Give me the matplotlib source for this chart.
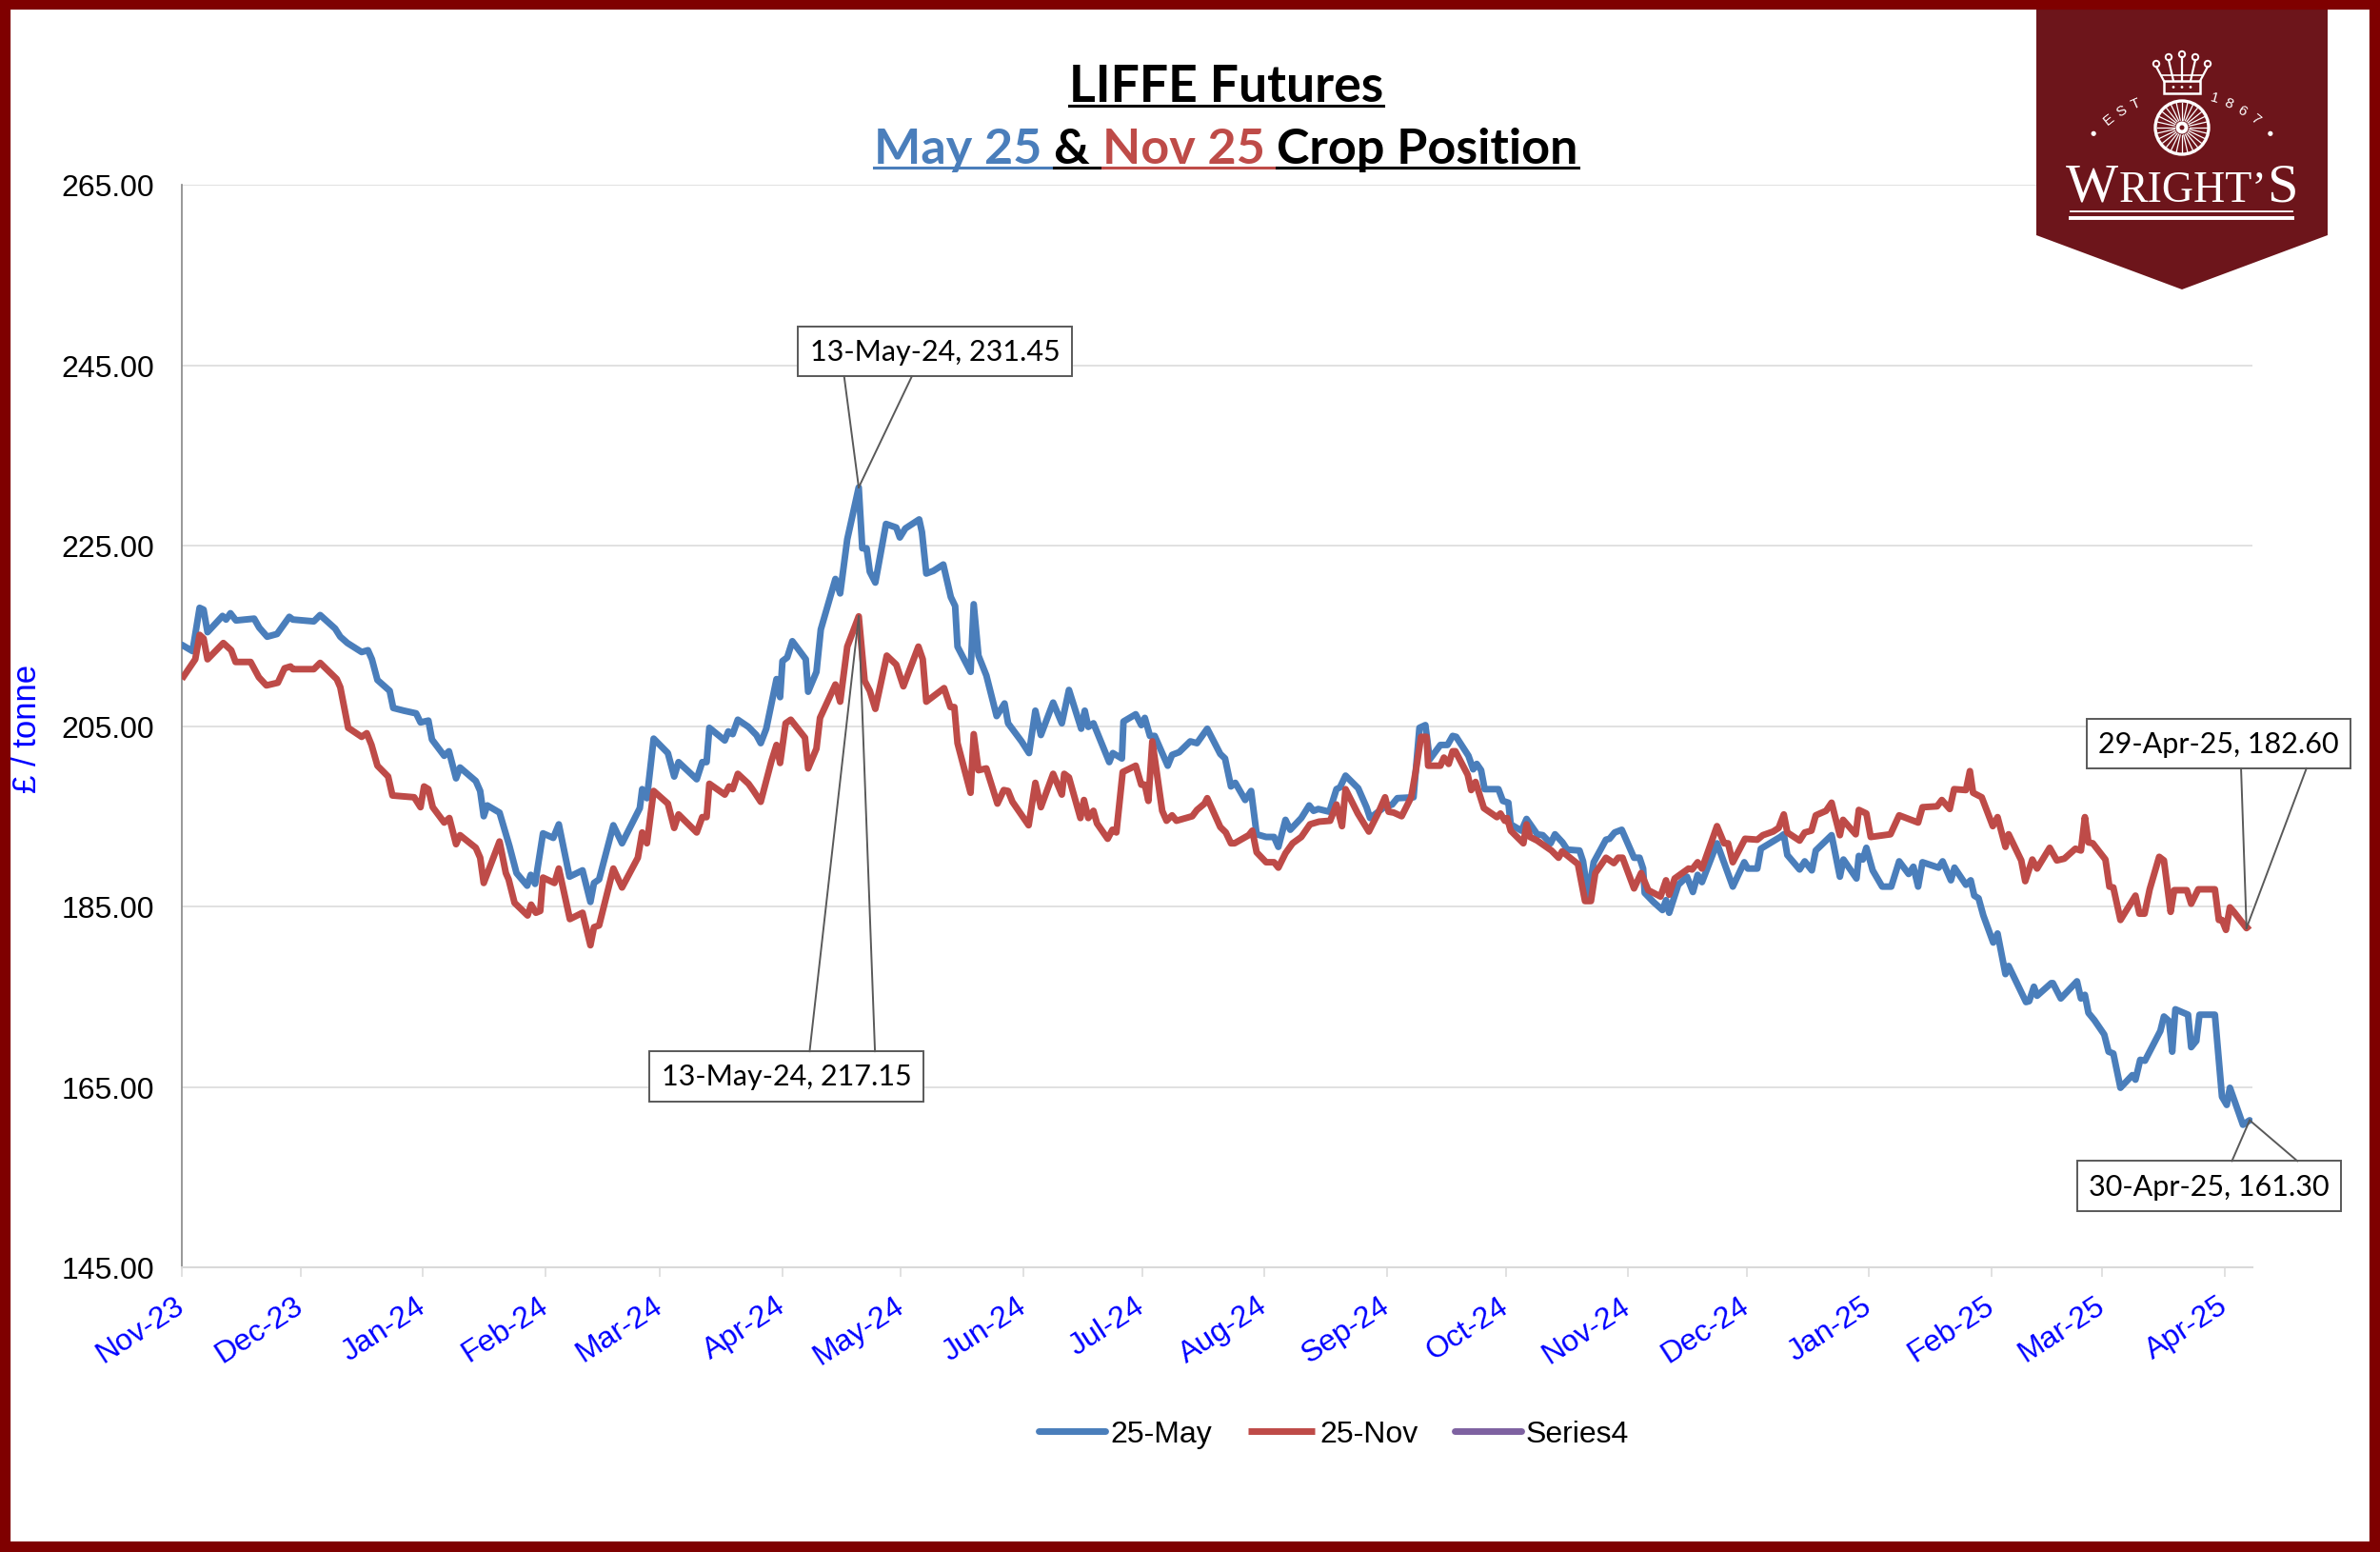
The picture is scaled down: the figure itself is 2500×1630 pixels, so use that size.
import numpy as np
import pandas as pd
import matplotlib
matplotlib.use('Agg')
import matplotlib.pyplot as plt
import matplotlib.dates as mdates
from matplotlib.patches import Polygon, Circle, Rectangle
from matplotlib.lines import Line2D

W, H = 2500, 1631
DPI = 100

BLUE = '#4A7EBB'
RED = '#BE4B48'
PURPLE = '#7E62A1'

# x positions are days after 1 Nov 2023 on the chart's date axis
start = pd.Timestamp('2023-11-01')

may_days = [
    0, 2.7, 4.5, 5.5, 6.5, 10.3, 11.2, 12.3, 13.7, 18.3,
    19.6, 21.6, 24.1, 27.2, 28.1, 33.4, 35.0, 38.8, 40.1, 41.9,
    45.5, 47.1, 48.1, 49.5, 52.6, 53.5, 56.2, 59.3, 60.4, 62.4,
    63.3, 66.4, 67.6, 69.4, 70.4, 74.4, 75.5, 76.4, 77.3, 80.4,
    82.9, 84.7, 87.4, 88.3, 89.4, 91.4, 94.0, 95.4, 98.1, 101.4,
    103.4, 104.3, 105.6, 109.2, 111.4, 115.9, 116.5, 117.7, 119.4, 123.0,
    124.6, 125.7, 130.3, 131.7, 132.8, 133.5,
    137.4, 138.3, 139.4, 140.7, 143.4, 145.4, 146.5, 147.9, 150.5, 151.4,
    152.0, 153.2, 154.5, 157.9, 158.5, 160.6, 161.7, 165.4, 166.6, 168.4,
    171.3, 172.2, 173.3, 174.1, 175.5, 178.2, 180.8, 181.7, 183.1, 186.6,
    187.3, 188.4, 190.2, 192.7, 194.6, 195.7, 196.3, 199.6, 200.4, 201.6,
    203.6, 206.2, 208.2, 209.1, 212.5, 214.4, 216.0, 217.4, 220.5, 222.7,
    224.5, 227.6, 228.5, 229.4, 230.7, 234.7, 235.6, 237.9, 238.3, 241.4,
    242.8, 243.7, 245.0, 246.2, 249.5, 250.6, 252.4, 255.2, 256.9, 259.5,
    262.8, 264.0, 265.5, 266.6, 269.1, 270.6, 272.0,
    274.4, 276.4, 277.5, 279.3, 280.5, 283.3, 285.3, 286.4, 287.6, 290.4,
    292.2, 293.1, 294.5, 297.7, 299.8, 300.7, 304.3, 306.3, 307.6, 311.7,
    313.2, 314.7, 315.8, 318.5, 320.3, 321.6, 322.5, 325.6, 326.8, 327.7,
    328.8, 329.7, 333.2, 334.3, 335.7, 336.3, 339.0, 340.3, 343.0, 344.4,
    346.4, 347.5, 349.4, 350.6, 353.7, 354.6, 355.9, 357.3, 360.4, 361.3,
    362.6, 364.4, 367.5, 368.9, 369.8, 370.2, 372.4, 374.7, 375.6, 376.4,
    378.7, 380.9, 382.4, 383.6, 384.7, 388.5, 392.5, 395.4, 396.3, 398.7,
    399.6, 404.5, 405.4, 406.3, 409.4,
    410.7, 412.5, 413.5, 416.1, 417.5, 419.6, 420.5, 423.8, 424.4, 425.4,
    426.3, 427.9, 430.3, 432.6, 434.6, 437.0, 438.2, 439.4, 440.5, 444.6,
    445.6, 447.7, 448.6, 451.5, 452.7, 453.6, 454.7, 455.9, 458.4, 459.5,
    461.5, 462.3, 466.7, 467.5, 468.7, 469.5, 473.1, 473.5, 475.5, 479.6,
    480.6, 481.6, 482.5, 484.0, 486.5, 487.6, 488.8, 490.6, 493.6, 494.4,
    495.6, 496.8, 500.7, 501.6, 502.9, 503.7, 504.5, 507.7, 508.5, 509.8,
    510.6, 514.5, 516.3, 517.5, 518.3, 521.6, 523.3,
]
may_vals = [
    214.0, 213.3, 218.1, 217.9, 215.4, 217.2, 216.8, 217.5, 216.7, 216.9,
    215.9, 214.9, 215.2, 217.1, 216.8, 216.6, 217.3, 215.8, 214.9, 214.2,
    213.2, 213.4, 212.4, 210.1, 208.9, 207.0, 206.7, 206.4, 205.4, 205.6,
    203.5, 201.7, 202.2, 199.2, 200.4, 198.9, 197.8, 195.0, 196.2, 195.4,
    191.7, 188.7, 187.3, 188.5, 187.5, 193.1, 192.6, 194.1, 188.3, 189.0,
    185.5, 187.6, 188.0, 194.0, 192.0, 195.9, 198.0, 197.0, 203.6, 202.0,
    199.4, 201.0, 199.1, 201.0, 201.0, 204.8,
    203.4, 204.4, 204.1, 205.7, 204.9, 204.0, 203.1, 204.7, 210.2, 208.2,
    212.2, 212.6, 214.4, 212.4, 208.8, 211.0, 215.7, 221.3, 219.7, 225.7,
    231.45, 224.7, 224.7, 222.1, 220.9, 227.4, 227.0, 225.9, 226.9, 227.9,
    226.5, 221.9, 222.2, 222.9, 219.3, 218.3, 213.8, 211.0, 218.5, 212.8,
    210.6, 206.1, 207.5, 205.3, 203.3, 202.0, 206.7, 204.0, 207.6, 205.3,
    209.0, 204.7, 206.7, 204.9, 205.3, 201.0, 202.0, 201.4, 205.5, 206.3,
    205.1, 205.9, 203.9, 203.9, 200.6, 201.8, 202.1, 203.3, 203.1, 204.7,
    201.9, 201.4, 198.3, 198.7, 196.8, 197.8, 193.0,
    192.7, 192.7, 191.6, 194.6, 193.5, 194.8, 196.2, 195.6, 195.8, 195.5,
    198.0, 198.2, 199.5, 198.1, 196.0, 194.8, 196.0, 196.3, 197.0, 197.1,
    204.8, 205.1, 201.3, 202.9, 202.9, 203.9, 203.8, 201.7, 200.2, 200.8,
    200.1, 198.0, 198.0, 196.7, 196.5, 194.1, 193.4, 194.7, 193.0, 192.9,
    192.0, 193.0, 192.1, 191.3, 191.2, 190.0, 186.2, 189.9, 192.4, 192.5,
    193.2, 193.5, 190.4, 190.4, 189.2, 186.5, 185.5, 184.6, 185.7, 184.3,
    187.4, 188.3, 186.6, 188.5, 187.7, 192.0, 187.2, 189.9, 189.2, 189.2,
    191.4, 192.7, 193.0, 190.7, 189.1,
    190.0, 189.0, 191.2, 192.3, 192.9, 188.3, 190.2, 188.1, 190.6, 190.2,
    191.5, 189.0, 187.2, 187.2, 190.0, 188.6, 189.4, 187.2, 189.9, 189.3,
    190.0, 187.9, 189.3, 187.4, 187.9, 186.2, 185.9, 184.0, 181.0, 182.0,
    177.5, 178.4, 174.4, 174.5, 176.1, 175.1, 176.5, 176.5, 174.8, 176.7,
    174.8, 175.2, 173.2, 172.4, 170.8, 168.9, 168.7, 164.9, 166.3, 165.8,
    168.0, 167.9, 171.2, 172.8, 172.3, 168.9, 173.6, 173.0, 169.4, 170.1,
    173.0, 173.0, 163.9, 163.0, 164.9, 160.8, 161.3,
]

nov_days = [
    0, 3.4, 4.5, 5.5, 6.5, 10.5, 12.5, 13.6, 17.4, 19.5,
    21.4, 24.3, 26.0, 27.5, 28.1, 33.4, 35.0, 39.2, 40.1, 42.1,
    45.5, 46.8, 48.0, 49.5, 52.2, 53.3, 58.8, 60.4, 61.3, 62.4,
    63.5, 66.4, 67.7, 69.4, 70.4, 74.4, 75.5, 76.4, 80.4, 82.0,
    82.7, 84.2, 87.5, 88.4, 89.6, 90.7, 91.4, 94.3, 95.4, 98.2,
    101.4, 103.4, 104.3, 105.6, 109.2, 111.4, 115.4, 116.5, 117.7, 119.4,
    123.0, 124.6, 125.7, 130.3, 131.7, 132.8, 133.5, 137.4,
    138.5, 139.4, 140.7, 143.4, 144.7, 146.5, 149.2, 150.5, 151.4, 152.8,
    154.1, 157.7, 158.5, 160.6, 161.5, 165.4, 166.6, 168.4, 171.3, 172.8,
    174.1, 175.5, 178.4, 180.8, 182.6, 186.4, 187.5, 188.4, 190.2, 192.9,
    194.5, 195.5, 196.3, 199.6, 200.4, 201.6, 203.6, 206.4, 208.0, 209.1,
    210.2, 214.3, 216.0, 217.4, 220.5, 222.7, 223.3, 224.5, 227.4, 228.3,
    229.4, 230.7, 231.6, 234.3, 235.5, 236.5, 238.1, 241.4, 242.8, 243.7,
    244.6, 245.6, 248.1, 249.2, 250.6, 251.7, 255.7, 256.9, 258.8, 259.5,
    262.8, 264.2, 265.5, 266.4, 270.0, 270.9, 272.0,
    274.4, 276.4, 277.5, 279.3, 281.1, 283.3, 285.5, 287.8, 290.6, 292.2,
    293.6, 294.5, 297.6, 300.4, 302.7, 304.5, 305.4, 306.7, 308.7, 311.1,
    312.3, 313.6, 315.0, 315.4, 318.5, 319.4, 320.6, 321.6, 322.3, 325.4,
    326.3, 327.4, 329.5, 332.8, 333.7, 334.8, 335.4, 336.3, 339.5, 340.3,
    341.2, 343.0, 346.6, 348.4, 349.3, 353.3, 355.1, 356.6, 357.7, 360.4,
    362.4, 363.5, 364.6, 367.5, 369.3, 371.1, 374.2, 375.6, 376.4, 377.8,
    381.3, 382.2, 383.6, 384.7, 388.5, 390.3, 391.3, 392.5, 395.6, 398.7,
    400.1, 402.7, 404.1, 405.4, 406.3, 409.4,
    410.7, 412.4, 413.5, 416.1, 417.5, 418.3, 419.6, 420.4, 423.6, 424.4,
    426.3, 427.4, 432.4, 434.6, 439.4, 440.5, 444.2, 445.4, 447.4, 448.5,
    451.5, 452.5, 453.3, 455.5, 458.3, 459.5, 461.5, 462.3, 465.5, 466.5,
    468.3, 469.5, 472.7, 474.5, 476.4, 479.2, 480.6, 481.6, 482.5, 483.6,
    486.8, 487.8, 488.8, 490.6, 494.4, 495.4, 496.7, 498.0, 500.4, 501.6,
    503.3, 504.2, 507.4, 508.5, 510.3, 514.5, 515.5, 516.3, 517.3, 518.3,
    519.3, 522.5, 523.3,
]
nov_vals = [
    210.2, 212.4, 215.1, 214.7, 212.4, 214.2, 213.4, 212.1, 212.1, 210.4,
    209.5, 209.8, 211.4, 211.6, 211.3, 211.3, 212.0, 210.2, 209.3, 204.8,
    203.8, 204.2, 202.9, 200.6, 199.4, 197.3, 197.1, 196.0, 198.3, 198.0,
    196.0, 194.3, 194.8, 191.9, 192.9, 191.5, 190.4, 187.6, 192.2, 188.7,
    188.0, 185.4, 184.0, 185.2, 184.3, 184.5, 188.2, 187.6, 189.2, 183.6,
    184.3, 180.7, 182.7, 182.9, 189.2, 187.1, 190.4, 193.2, 192.0, 197.8,
    196.4, 193.7, 195.2, 193.2, 194.9, 194.9, 198.6, 197.4,
    198.3, 198.0, 199.7, 198.6, 197.8, 196.6, 201.1, 202.9, 200.9, 205.3,
    205.7, 203.7, 200.3, 202.5, 205.9, 209.6, 207.7, 213.8, 217.15, 210.0,
    208.9, 206.9, 212.8, 211.8, 209.4, 213.8, 212.4, 207.7, 208.3, 209.2,
    207.1, 207.1, 203.1, 197.6, 204.1, 200.1, 200.3, 196.4, 197.9, 197.8,
    196.6, 194.0, 198.7, 196.0, 199.7, 197.4, 199.7, 199.3, 194.8, 196.8,
    194.8, 195.6, 194.2, 192.5, 193.5, 193.2, 199.9, 200.6, 198.5, 198.5,
    196.7, 203.3, 195.6, 194.5, 195.1, 194.5, 195.0, 195.7, 196.4, 197.0,
    193.8, 193.2, 192.0, 192.0, 192.9, 193.4, 191.0,
    189.9, 189.9, 189.3, 190.9, 192.0, 192.7, 194.1, 194.4, 194.5, 196.3,
    193.9, 198.0, 195.3, 193.3, 195.3, 197.1, 195.5, 195.4, 195.0, 197.1,
    200.1, 203.8, 203.8, 200.6, 200.6, 201.5, 200.8, 202.2, 202.2, 199.6,
    197.9, 198.8, 195.9, 194.9, 195.3, 194.5, 194.8, 193.4, 192.0, 194.1,
    192.7, 192.3, 191.2, 190.4, 191.1, 189.7, 185.6, 185.6, 188.7, 190.4,
    189.8, 190.4, 190.4, 187.0, 188.7, 186.8, 186.1, 187.9, 186.3, 188.1,
    189.2, 189.1, 189.9, 189.2, 193.9, 192.0, 192.0, 189.9, 192.5, 192.4,
    192.9, 193.3, 193.7, 195.2, 193.2, 192.3,
    193.2, 193.4, 195.1, 195.6, 196.5, 195.1, 192.9, 194.6, 193.0, 195.7,
    195.3, 192.7, 193.0, 195.1, 194.3, 196.0, 196.1, 196.8, 195.8, 198.0,
    197.9, 200.0, 197.6, 197.1, 193.9, 194.9, 191.6, 193.0, 190.1, 187.8,
    190.2, 189.2, 191.5, 190.1, 190.3, 191.4, 191.2, 194.9, 192.1, 192.0,
    190.2, 187.2, 187.1, 183.5, 186.2, 184.2, 184.2, 186.9, 190.5, 190.1,
    184.4, 186.8, 186.8, 185.3, 186.9, 186.9, 183.5, 183.5, 182.4, 184.9,
    184.4, 182.6, 182.9,
]

y_ticks = [145, 165, 185, 205, 225, 245, 265]
series_names = ['25-May', '25-Nov', 'Series4']

ann_texts = ['13-May-24, 231.45', '13-May-24, 217.15', '29-Apr-25, 182.60', '30-Apr-25, 161.30']

may_dates = mdates.date2num(start + pd.to_timedelta(may_days, unit='D'))
nov_dates = mdates.date2num(start + pd.to_timedelta(nov_days, unit='D'))
may_vals = np.array(may_vals)
nov_vals = np.array(nov_vals)

fig = plt.figure(figsize=(W / DPI, H / DPI), dpi=DPI)
fig.patch.set_facecolor('white')

ax = fig.add_axes([191 / W, 1 - 1332 / H, 2175 / W, 1137 / H])
ax.plot(may_dates, may_vals, color=BLUE, lw=5, solid_joinstyle='round',
        solid_capstyle='round', label=series_names[0], zorder=3)
ax.plot(nov_dates, nov_vals, color=RED, lw=5, solid_joinstyle='round',
        solid_capstyle='butt', label=series_names[1], zorder=4)
ax.plot([], [], color=PURPLE, lw=5, solid_capstyle='round', label=series_names[2])

ax.set_ylim(145, 265)
ax.set_xlim(mdates.date2num(start), mdates.date2num(start + pd.Timedelta(days=524)))
ax.set_yticks(y_ticks)
ax.set_yticklabels([f'{v:.2f}' for v in y_ticks], fontsize=23, family='Liberation Sans')
ax.tick_params(axis='y', length=0, pad=21)
ax.xaxis.set_major_locator(mdates.MonthLocator())
ax.xaxis.set_major_formatter(mdates.DateFormatter('%b-%y'))
ax.tick_params(axis='x', direction='out', length=7, width=1.1, color='#D9D9D9',
               labelcolor='#0000FF', labelsize=23, pad=20)
for lab in ax.get_xticklabels():
    lab.set_rotation(33)
    lab.set_ha('right')
    lab.set_va('center')
    lab.set_rotation_mode('anchor')
    lab.set_family('Liberation Sans')

ax.yaxis.grid(True, color='#D9D9D9', lw=1.1)
ax.set_axisbelow(True)
for s in ['top', 'right']:
    ax.spines[s].set_visible(False)
ax.spines['left'].set_color('#868686')
ax.spines['left'].set_linewidth(1.2)
ax.spines['bottom'].set_color('#D9D9D9')
ax.spines['bottom'].set_linewidth(1.5)

fig.text(29 / W, 1 - 765 / H, '£ / tonne', rotation=90, color='#0000FF', fontsize=25,
         ha='center', va='center', family='Liberation Sans')

fig.legend(loc='center', bbox_to_anchor=(1401 / W, 1 - 1507 / H), ncol=3, frameon=False,
           prop={'family': 'Liberation Sans', 'size': 23}, handlelength=2.2,
           handletextpad=0.15, columnspacing=1.2)

# title with coloured, underlined pieces
renderer = fig.canvas.get_renderer()


def text_width(s, size):
    t = fig.text(0, 0, s + '|', fontsize=size, fontweight='bold', family='Lato')
    w = t.get_window_extent(renderer).width
    t.remove()
    return w


def title_line(pieces, y_px, size, cx=1288):
    bar = text_width('', size)
    widths = [text_width(s, size) - bar for s, c in pieces]
    x = cx - sum(widths) / 2
    base = H - y_px
    for (s, c), w in zip(pieces, widths):
        fig.text(x / W, base / H, s, color=c, fontsize=size, fontweight='bold',
                 family='Lato', ha='left', va='baseline')
        fig.add_artist(Line2D([x / W, (x + w) / W], [(base - 5) / H] * 2, color=c, lw=2.2))
        x += w


title_line([('LIFFE Futures', 'black')], 107, 38.5)
title_line([('May 25 ', BLUE), ('& ', 'black'), ('Nov 25 ', RED), ('Crop Position', 'black')], 172, 37.5)

# callout labels
points = [
    (may_dates[np.argmax(may_vals)], may_vals.max()),
    (nov_dates[np.argmax(nov_vals)], nov_vals.max()),
    (nov_dates[-2], nov_vals[-2]),
    (may_dates[-1], may_vals[-1]),
]
offsets = [(80, 143), (-76, -483), (-29, 194), (-43, -69)]
attach = [(0.168, 0.416, 'bottom'), (0.585, 0.824, 'top'), (0.584, 0.832, 'bottom'), (0.588, 0.836, 'top')]
anns = []
for txt, pt, off in zip(ann_texts, points, offsets):
    a = ax.annotate(txt, xy=pt, xytext=off, textcoords='offset pixels', ha='center', va='center',
                    fontsize=22, family='Lato', color='black', annotation_clip=False, zorder=6,
                    bbox=dict(boxstyle='square,pad=0.4', fc='white', ec='#595959', lw=1.4))
    anns.append(a)

# logo and frame overlay in pixel units
lg = fig.add_axes([0, 0, 1, 1], zorder=10)
lg.set_xlim(0, W)
lg.set_ylim(H, 0)
lg.axis('off')
MAROON = '#6D151B'
lg.add_patch(Polygon([(2139, 9), (2445, 9), (2445, 248), (2292, 305), (2139, 248)],
                     closed=True, fc=MAROON, ec='none'))
cx = 2292
lg.add_patch(Circle((cx, 135), 28, fill=False, ec='white', lw=2.4))
for a in np.linspace(0, 2 * np.pi, 28, endpoint=False):
    lg.plot([cx + 8 * np.cos(a), cx + 26 * np.cos(a)], [135 + 8 * np.sin(a), 135 + 26 * np.sin(a)],
            color='white', lw=0.9)
lg.add_patch(Circle((cx, 135), 6.5, fc='white', ec='none'))
lg.add_patch(Circle((cx, 135), 2.5, fc=MAROON, ec='none'))
# crown
lg.add_patch(Rectangle((cx - 19, 86), 38, 13, fill=False, ec='white', lw=1.8))
for dx in (-9, 0, 9):
    lg.add_patch(Circle((cx + dx, 92.5), 1.4, fc='white', ec='none'))
tops = [(-27, 68), (-14, 61), (0, 58), (14, 61), (27, 68)]
bases = [(-19, 86), (-9, 86), (0, 86), (9, 86), (19, 86)]
for (tx, ty), (bx, by) in zip(tops, bases):
    lg.plot([cx + bx, cx + tx], [by, ty + 3], color='white', lw=1.6)
    lg.add_patch(Circle((cx + tx, ty), 3.2, fill=False, ec='white', lw=1.4))
lg.plot([cx - 22, cx + 22], [80, 80], color='white', lw=1.2)
# EST 1867 on an arc
for ch, ang in zip('EST', [128.5, 121, 113.5]):
    r = np.radians(ang)
    lg.text(cx + 123 * np.cos(r), 222 - 123 * np.sin(r), ch, color='white', fontsize=11,
            family='Liberation Sans', ha='center', va='center', rotation=ang - 90)
for ch, ang in zip('1867', [74, 66.5, 59, 51.5]):
    r = np.radians(ang)
    lg.text(cx + 123 * np.cos(r), 222 - 123 * np.sin(r), ch, color='white', fontsize=11,
            family='Liberation Sans', ha='center', va='center', rotation=ang - 90)
for ang in (139, 41):
    r = np.radians(ang)
    lg.add_patch(Circle((cx + 123 * np.cos(r), 222 - 123 * np.sin(r)), 2.6, fc='white', ec='none'))


def serif_width(s, size):
    t = fig.text(0, 0, s + '|', fontsize=size, family='Liberation Serif')
    w = t.get_window_extent(renderer).width
    t.remove()
    return w


logo_pieces = [('W', 42), ('RIGHT\u2019', 33), ('S', 42)]
lw_ = [serif_width(s, z) - serif_width('', z) for s, z in logo_pieces]
x = cx - sum(lw_) / 2
for (s, z), w in zip(logo_pieces, lw_):
    lg.text(x, 212, s, color='white', fontsize=z, family='Liberation Serif', ha='left', va='baseline')
    x += w
lg.plot([2175, 2408], [222.5, 222.5], color='white', lw=1.3)
lg.plot([2175, 2408], [230, 230], color='white', lw=2.8)

lg.add_patch(Rectangle((0, 0), W, H, fill=False, ec='#7F0000', lw=16, clip_on=False))

# callout leader lines from the box edges to the points
fig.canvas.draw()
renderer = fig.canvas.get_renderer()
for a, pt, (f1, f2, side) in zip(anns, points, attach):
    bb = a.get_bbox_patch().get_window_extent(renderer)
    px, py = ax.transData.transform(pt)
    ey = bb.y0 if side == 'bottom' else bb.y1
    for f in (f1, f2):
        ex = bb.x0 + f * bb.width
        fig.add_artist(Line2D([ex / W, px / W], [ey / H, py / H], color='#595959', lw=1.4))

fig.savefig('out.png', dpi=DPI)
